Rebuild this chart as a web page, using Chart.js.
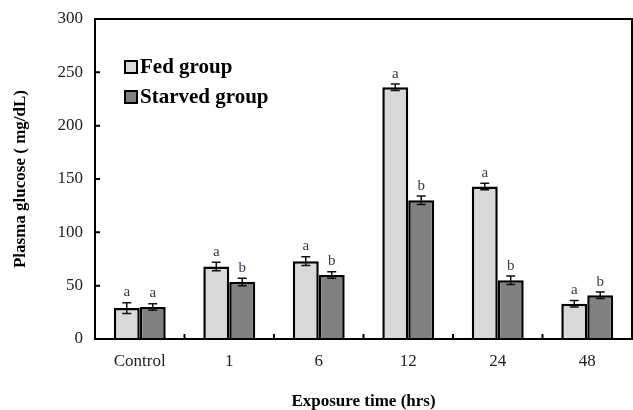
<!DOCTYPE html>
<html>
<head>
<meta charset="utf-8">
<script src="https://cdn.jsdelivr.net/npm/chart.js@4"></script>
<style>
  html, body { margin: 0; padding: 0; background: #fff; }
  #wrap { width: 633px; height: 410px; }
</style>
</head>
<body>
<div id="wrap"><canvas id="glucoseChart" width="633" height="410"></canvas></div>
<script>
const categories = ["Control", "1", "6", "12", "24", "48"];
const fedValues = [29, 68, 73, 236, 143, 33];
const fedErrors = [5, 4, 4, 3, 3, 3];
const fedLetters = ["a", "a", "a", "a", "a", "a"];
const starvedValues = [30, 53.5, 60, 130, 55, 41];
const starvedErrors = [3, 3.5, 3, 4, 4, 3];
const starvedLetters = ["a", "b", "b", "b", "b", "b"];
const yTicks = [0, 50, 100, 150, 200, 250, 300];

const serif = "'Liberation Serif', 'Times New Roman', serif";

// error bars + significance letters
const errorBarPlugin = {
  id: 'errorBars',
  afterDatasetsDraw(chart) {
    const ctx = chart.ctx;
    const y = chart.scales.y;
    const errs = [fedErrors, starvedErrors];
    const letters = [fedLetters, starvedLetters];
    ctx.save();
    chart.data.datasets.forEach((ds, di) => {
      const meta = chart.getDatasetMeta(di);
      meta.data.forEach((bar, i) => {
        const v = ds.data[i];
        const top = y.getPixelForValue(v + errs[di][i]);
        const bot = y.getPixelForValue(v - errs[di][i]);
        ctx.strokeStyle = '#111';
        ctx.lineWidth = 1.5;
        ctx.beginPath();
        ctx.moveTo(bar.x, top); ctx.lineTo(bar.x, bot);
        ctx.moveTo(bar.x - 4.5, top); ctx.lineTo(bar.x + 4.5, top);
        ctx.moveTo(bar.x - 4.5, bot); ctx.lineTo(bar.x + 4.5, bot);
        ctx.stroke();
        ctx.fillStyle = '#3a3a4a';
        ctx.font = '15px ' + serif;
        ctx.textAlign = 'center';
        ctx.textBaseline = 'bottom';
        ctx.fillText(letters[di][i], bar.x, top - 3);
      });
    });
    ctx.restore();
  }
};

// frame, inside ticks and legend
const framePlugin = {
  id: 'frame',
  afterDraw(chart) {
    const ctx = chart.ctx;
    const a = chart.chartArea;
    const x = chart.scales.x;
    const y = chart.scales.y;
    ctx.save();
    ctx.strokeStyle = '#000';
    ctx.lineWidth = 2;
    ctx.strokeRect(a.left, a.top, a.right - a.left, a.bottom - a.top);
    ctx.beginPath();
    yTicks.forEach(t => {
      const py = y.getPixelForValue(t);
      ctx.moveTo(a.left, py); ctx.lineTo(a.left + 5, py);
    });
    for (let i = 1; i < categories.length; i++) {
      const px = (x.getPixelForValue(i - 1) + x.getPixelForValue(i)) / 2;
      ctx.moveTo(px, a.bottom); ctx.lineTo(px, a.bottom - 5);
    }
    ctx.stroke();

    // legend
    const items = chart.data.datasets;
    items.forEach((ds, i) => {
      const cy = 67 + i * 30;
      ctx.fillStyle = ds.backgroundColor;
      ctx.fillRect(125, cy - 6, 12, 12);
      ctx.lineWidth = 2;
      ctx.strokeStyle = '#000';
      ctx.strokeRect(125, cy - 6, 12, 12);
      ctx.fillStyle = '#000';
      ctx.font = 'bold 21px ' + serif;
      ctx.textAlign = 'left';
      ctx.textBaseline = 'middle';
      ctx.fillText(ds.label, 140, cy + 1);
    });
    ctx.restore();
  }
};

new Chart(document.getElementById('glucoseChart'), {
  type: 'bar',
  data: {
    labels: categories,
    datasets: [
      {
        label: 'Fed group',
        data: fedValues,
        backgroundColor: '#d9d9d9',
        borderColor: '#000',
        borderWidth: 2.5
      },
      {
        label: 'Starved group',
        data: starvedValues,
        backgroundColor: '#808080',
        borderColor: '#000',
        borderWidth: 2.5
      }
    ]
  },
  options: {
    responsive: false,
    animation: false,
    layout: { padding: { top: 19, right: 1, left: 8, bottom: 0 } },
    datasets: { bar: { categoryPercentage: 0.58, barPercentage: 1 } },
    plugins: {
      legend: { display: false },
      tooltip: { enabled: false }
    },
    scales: {
      x: {
        grid: { display: false },
        border: { display: false },
        ticks: { color: '#222', font: { family: serif, size: 17 }, padding: 4 },
        title: {
          display: true,
          text: 'Exposure time (hrs)',
          color: '#000',
          font: { family: serif, size: 17, weight: 'bold', lineHeight: 1 },
          padding: { top: 4, bottom: 0 }
        },
        afterFit(scale) { scale.height = 71; }
      },
      y: {
        min: 0,
        max: 300,
        afterBuildTicks(scale) { scale.ticks = yTicks.map(v => ({ value: v })); },
        grid: { display: false },
        border: { display: false },
        ticks: { color: '#222', font: { family: serif, size: 17 }, padding: 4 },
        title: {
          display: true,
          text: 'Plasma glucose ( mg/dL)',
          color: '#000',
          font: { family: serif, size: 17, weight: 'bold', lineHeight: 1 },
          padding: { top: 4, bottom: 0 }
        },
        afterFit(scale) { scale.width = 87; }
      }
    }
  },
  plugins: [errorBarPlugin, framePlugin]
});
</script>
</body>
</html>
